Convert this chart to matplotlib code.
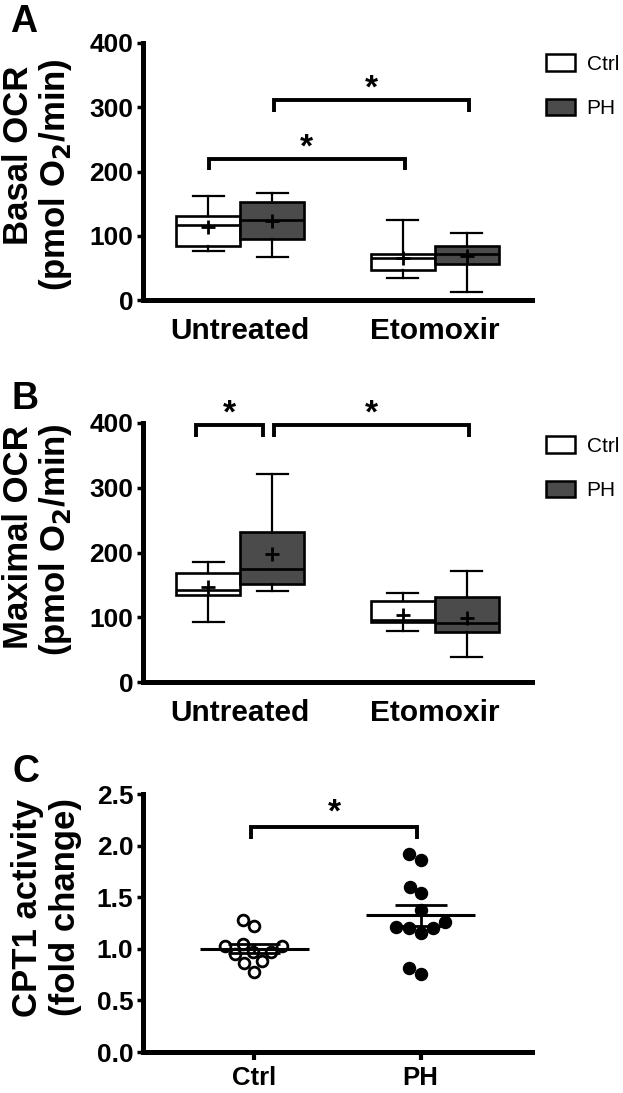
import numpy as np
import matplotlib
matplotlib.use("Agg")
import matplotlib.pyplot as plt
from matplotlib.patches import Patch

plt.rcParams['font.family'] = ['Liberation Sans', 'DejaVu Sans']

groups = ['Untreated', 'Etomoxir']
series = ['Ctrl', 'PH']
series_colors = ['white', '#4b4b4b']

# box stats per group: whislo, q1, med, q3, whishi, mean
basal_ctrl = [[77, 84, 116, 131, 162, 114], [35, 47, 66, 72, 125, 66]]
basal_ph = [[67, 95, 124, 152, 166, 123], [13, 56, 72, 84, 104, 68]]
maximal_ctrl = [[92, 134, 142, 168, 186, 147], [79, 93, 96, 125, 138, 104]]
maximal_ph = [[141, 152, 174, 232, 322, 197], [39, 77, 91, 131, 172, 99]]

# CPT1 activity (fold change)
cpt1_ctrl = [1.22, 1.28, 1.025, 1.03, 1.045, 0.97, 0.97, 0.95, 0.88, 0.86, 0.78]
cpt1_ph = [1.86, 1.915, 1.60, 1.54, 1.38, 1.21, 1.20, 1.155, 1.20, 1.255, 0.76, 0.81]

# significance brackets: (x1, x2, height)
basal_sig = [(0.175, 1.175, 311), (-0.16, 0.845, 220)]
maximal_sig = [(-0.23, 0.115, 397), (0.175, 1.175, 397)]
cpt1_sig = [(-0.02, 0.98, 2.18)]

W, H = 623, 1093
fig = plt.figure(figsize=(W / 100, H / 100), dpi=100)


def fig_axes(left, top, right, bottom):
    return fig.add_axes([left / W, 1 - bottom / H, (right - left) / W, (bottom - top) / H])


def style_axes(ax):
    for s in ['top', 'right']:
        ax.spines[s].set_visible(False)
    for s in ['left', 'bottom']:
        ax.spines[s].set_linewidth(3.6)
    ax.tick_params(axis='y', length=4, width=2.5, pad=3, labelsize=19)
    for lab in ax.get_yticklabels():
        lab.set_fontweight('bold')


def bracket(ax, x1, x2, y, drop, star_y):
    ax.plot([x1, x1, x2, x2], [y - drop, y, y, y - drop], color='black', lw=2.8,
            clip_on=False, solid_capstyle='butt', solid_joinstyle='miter')
    ax.text((x1 + x2) / 2, star_y, '*', ha='center', va='center', fontsize=24,
            fontweight='bold', clip_on=False)


def ylabel2(x1, y1, t1, x2, y2, t2):
    fig.text(x1 / W, 1 - y1 / H, t1, rotation=90, ha='center', va='center',
             fontsize=25, fontweight='bold')
    fig.text(x2 / W, 1 - y2 / H, t2, rotation=90, ha='center', va='center',
             fontsize=25, fontweight='bold')


def box_panel(ax, ctrl, ph, sig, leg_pos):
    width = 0.33
    for k, (data, color) in enumerate(zip([ctrl, ph], series_colors)):
        stats = []
        for g, d in enumerate(data):
            stats.append(dict(whislo=d[0], q1=d[1], med=d[2], q3=d[3], whishi=d[4],
                              mean=d[5], fliers=[]))
        pos = [g + (k - 0.5) * width for g in range(len(groups))]
        ax.bxp(stats, positions=pos, widths=width, patch_artist=True, showmeans=True,
               capwidths=0.16, manage_ticks=False,
               boxprops=dict(facecolor=color, edgecolor='black', linewidth=1.9),
               medianprops=dict(color='black', linewidth=1.9),
               whiskerprops=dict(color='black', linewidth=1.6),
               capprops=dict(color='black', linewidth=1.6),
               meanprops=dict(marker='+', markersize=10, markeredgewidth=2,
                              markeredgecolor='black'))
    ax.set_xlim(-0.5, 1.5)
    ax.set_ylim(0, 400)
    ax.set_yticks([0, 100, 200, 300, 400])
    ax.set_xticks(range(len(groups)))
    ax.set_xticklabels(groups, fontsize=21.5, fontweight='bold')
    ax.tick_params(axis='x', length=0, pad=12)
    style_axes(ax)
    for x1, x2, y in sig:
        bracket(ax, x1, x2, y, 18, y + 17)
    handles = [Patch(facecolor=c, edgecolor='black', linewidth=1.8) for c in series_colors]
    ax.legend(handles, series, loc='upper left', bbox_to_anchor=leg_pos,
              bbox_transform=fig.transFigure, frameon=False, fontsize=15,
              handlelength=1.4, handleheight=0.85, handletextpad=0.55,
              labelspacing=1.2, borderpad=0, borderaxespad=0)


# panel A
axA = fig_axes(143, 43, 532, 300)
box_panel(axA, basal_ctrl, basal_ph, basal_sig, (546 / W, 1 - 54 / H))
ylabel2(19, 155, 'Basal OCR', 56, 175, '(pmol O$_\\mathbf{2}$/min)')

# panel B
axB = fig_axes(143, 423, 532, 682)
box_panel(axB, maximal_ctrl, maximal_ph, maximal_sig, (546 / W, 1 - 436 / H))
ylabel2(19, 537, 'Maximal OCR', 56, 540, '(pmol O$_\\mathbf{2}$/min)')

# panel C
axC = fig_axes(143, 794, 532, 1052)
xlo, xhi = -0.67, 1.67
ylo, yhi = 0, 2.5
axC.set_xlim(xlo, xhi)
axC.set_ylim(ylo, yhi)
px_x = (532 - 143) / (xhi - xlo)
px_y = (1052 - 794) / (yhi - ylo)


def swarm(vals, diam=12.5):
    vals = np.asarray(vals)
    cands = np.arange(-60, 61, 1.0)
    cands = cands[np.argsort(np.abs(cands), kind='stable')]
    placed = []
    offs = np.zeros(len(vals))
    for i in np.argsort(vals):
        y = vals[i] * px_y
        for c in cands:
            if all((c - a) ** 2 + (y - b) ** 2 >= diam ** 2 for a, b in placed):
                offs[i] = c
                placed.append((c, y))
                break
    return offs / px_x


for k, vals in enumerate([cpt1_ctrl, cpt1_ph]):
    vals = np.asarray(vals)
    xs = k + swarm(vals)
    if k == 0:
        axC.scatter(xs, vals, s=60, facecolor='white', edgecolor='black', linewidth=2,
                    zorder=2)
    else:
        axC.scatter(xs, vals, s=75, facecolor='black', edgecolor='black', linewidth=1,
                    zorder=2)
    m = vals.mean()
    sem = vals.std(ddof=1) / np.sqrt(len(vals))
    axC.hlines(m, k - 0.33, k + 0.33, color='black', lw=2.2, zorder=3)
    axC.errorbar([k], [m], yerr=[sem], fmt='none', ecolor='black', elinewidth=2,
                 capsize=19, capthick=2, zorder=3)

axC.set_xticks([0, 1])
axC.set_xticklabels(series, fontsize=18.5, fontweight='bold')
axC.set_yticks([0, 0.5, 1.0, 1.5, 2.0, 2.5])
axC.set_yticklabels(['%.1f' % v for v in [0, 0.5, 1.0, 1.5, 2.0, 2.5]])
axC.tick_params(axis='x', length=6, width=3, pad=4)
style_axes(axC)
for x1, x2, y in cpt1_sig:
    bracket(axC, x1, x2, y, 0.12, y + 0.14)
ylabel2(28, 908, 'CPT1 activity', 66, 907, '(fold change)')

for letter, (x, y) in zip('ABC', [(10, 4), (11, 381), (13, 754)]):
    fig.text(x / W, 1 - y / H, letter, ha='left', va='top', fontsize=27, fontweight='bold')

fig.savefig('out.png', dpi=100)
